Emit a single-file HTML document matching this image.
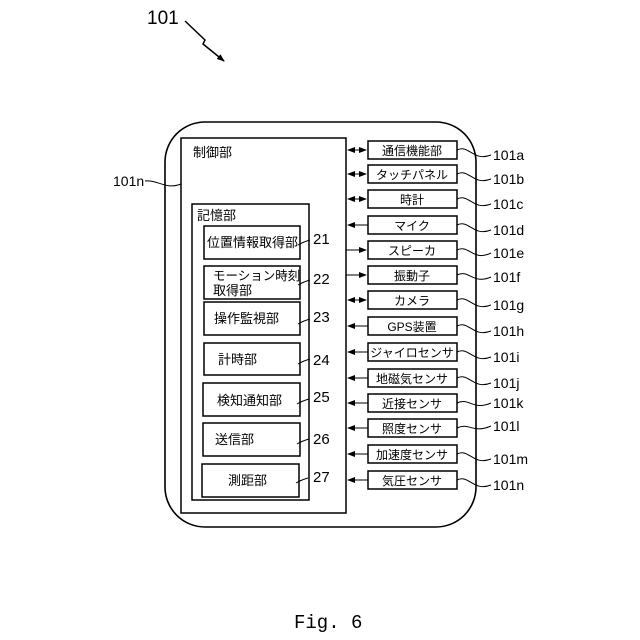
<!DOCTYPE html>
<html><head><meta charset="utf-8"><style>
html,body{margin:0;padding:0;background:#fff}
svg{display:block}
text{font-family:"Liberation Sans","Noto Sans CJK JP",sans-serif;fill:#000}
text.fig{font-family:"Liberation Mono",monospace}
</style></head><body>
<svg width="640" height="640" viewBox="0 0 640 640" xmlns="http://www.w3.org/2000/svg">
<defs><marker id="a" markerWidth="8" markerHeight="6" refX="7" refY="3" orient="auto-start-reverse" markerUnits="userSpaceOnUse"><path d="M0,0 L8,3 L0,6 Z" fill="#000"/></marker></defs>
<text x="147" y="24" font-size="19">101</text>
<polyline points="185,21 205,40 203,44 224,61" fill="none" stroke="#000" stroke-width="1.5" marker-end="url(#a)"/>
<rect x="165" y="122" width="311" height="405" rx="40" fill="none" stroke="#000" stroke-width="1.6"/>
<rect x="181" y="138" width="165" height="375" fill="none" stroke="#000" stroke-width="1.5"/>
<text x="193" y="157" font-size="13">制御部</text>
<rect x="192" y="204" width="117" height="296" fill="none" stroke="#000" stroke-width="1.5"/>
<text x="197" y="220" font-size="13">記憶部</text>
<text x="113" y="186" font-size="14">101n</text>
<path d="M145,181 C160,180 165,190 181,184" fill="none" stroke="#000" stroke-width="1"/>
<g stroke="#000" stroke-width="1.5" fill="none">
<rect x="204" y="226" width="96" height="33"/>
<rect x="204" y="266" width="96" height="33"/>
<rect x="204" y="302" width="96" height="33"/>
<rect x="204" y="343" width="96" height="32"/>
<rect x="203" y="383" width="97" height="33"/>
<rect x="203" y="423" width="97" height="33"/>
<rect x="202" y="464" width="97" height="33"/>
</g>
<g font-size="13">
<text x="207" y="247">位置情報取得部</text>
<text x="213" y="280" font-size="12.5">モーション時刻</text>
<text x="213" y="295">取得部</text>
<text x="214" y="323">操作監視部</text>
<text x="218" y="364">計時部</text>
<text x="217" y="405">検知通知部</text>
<text x="215" y="444">送信部</text>
<text x="228" y="485">測距部</text>
</g>
<g font-size="15">
<text x="313" y="244">21</text>
<text x="313" y="284">22</text>
<text x="313" y="322">23</text>
<text x="313" y="365">24</text>
<text x="313" y="402">25</text>
<text x="313" y="444">26</text>
<text x="313" y="482">27</text>
</g>
<g stroke="#000" stroke-width="1" fill="none">
<path d="M298,245 q5,-3 12,-5"/><path d="M298,285 q5,-3 12,-5"/><path d="M298,324 q5,-3 12,-5"/>
<path d="M298,364 q5,-3 12,-5"/><path d="M297,404 q5,-3 12,-5"/><path d="M297,444 q5,-3 12,-5"/><path d="M296,483 q5,-3 12,-5"/>
</g>
<g stroke="#000" stroke-width="1.5" fill="none">
<rect x="368" y="141" width="89" height="18"/>
<rect x="368" y="165" width="89" height="18"/>
<rect x="368" y="190" width="89" height="18"/>
<rect x="368" y="216" width="89" height="18"/>
<rect x="368" y="241" width="89" height="18"/>
<rect x="368" y="266" width="89" height="18"/>
<rect x="368" y="291" width="89" height="18"/>
<rect x="368" y="317" width="89" height="18"/>
<rect x="368" y="343" width="89" height="18"/>
<rect x="368" y="369" width="89" height="18"/>
<rect x="368" y="394" width="89" height="18"/>
<rect x="368" y="419" width="89" height="18"/>
<rect x="368" y="445" width="89" height="18"/>
<rect x="368" y="471" width="89" height="18"/>
</g>
<g stroke="#000" stroke-width="1">
<line x1="348" y1="150" x2="366" y2="150" marker-start="url(#a)" marker-end="url(#a)"/>
<line x1="348" y1="174" x2="366" y2="174" marker-start="url(#a)" marker-end="url(#a)"/>
<line x1="348" y1="199" x2="366" y2="199" marker-start="url(#a)" marker-end="url(#a)"/>
<line x1="348" y1="225" x2="368" y2="225" marker-start="url(#a)"/>
<line x1="346" y1="250" x2="366" y2="250" marker-end="url(#a)"/>
<line x1="346" y1="275" x2="366" y2="275" marker-end="url(#a)"/>
<line x1="348" y1="300" x2="366" y2="300" marker-start="url(#a)" marker-end="url(#a)"/>
<line x1="348" y1="326" x2="368" y2="326" marker-start="url(#a)"/>
<line x1="348" y1="352" x2="368" y2="352" marker-start="url(#a)"/>
<line x1="348" y1="378" x2="368" y2="378" marker-start="url(#a)"/>
<line x1="348" y1="403" x2="368" y2="403" marker-start="url(#a)"/>
<line x1="348" y1="428" x2="368" y2="428" marker-start="url(#a)"/>
<line x1="348" y1="454" x2="368" y2="454" marker-start="url(#a)"/>
<line x1="348" y1="480" x2="368" y2="480" marker-start="url(#a)"/>
</g>
<g font-size="12" text-anchor="middle">
<text x="412" y="155">通信機能部</text>
<text x="412" y="179">タッチパネル</text>
<text x="412" y="204">時計</text>
<text x="412" y="230">マイク</text>
<text x="412" y="255">スピーカ</text>
<text x="412" y="280">振動子</text>
<text x="412" y="305">カメラ</text>
<text x="412" y="331">GPS装置</text>
<text x="412" y="357">ジャイロセンサ</text>
<text x="412" y="383">地磁気センサ</text>
<text x="412" y="408">近接センサ</text>
<text x="412" y="433">照度センサ</text>
<text x="412" y="459">加速度センサ</text>
<text x="412" y="485">気圧センサ</text>
</g>
<g stroke="#000" stroke-width="1" fill="none">
<path d="M457,150 c12,-6 16,12 34,5"/><path d="M457,174 c12,-6 16,12 34,5"/><path d="M457,199 c12,-6 16,12 34,5"/>
<path d="M457,225 c12,-6 16,12 34,5"/><path d="M457,250 c12,-6 16,12 34,3"/><path d="M457,275 c12,-6 16,10 34,2"/>
<path d="M457,300 c12,-6 16,12 34,5"/><path d="M457,326 c12,-6 16,12 34,5"/><path d="M457,352 c12,-6 16,12 34,5"/>
<path d="M457,378 c12,-6 16,12 34,5"/><path d="M457,403 c12,-6 16,8 34,0"/><path d="M457,428 c12,-6 16,6 34,-2"/>
<path d="M457,454 c12,-6 16,12 34,5"/><path d="M457,480 c12,-6 16,12 34,5"/>
</g>
<g font-size="14">
<text x="493" y="160">101a</text><text x="493" y="184">101b</text><text x="493" y="209">101c</text>
<text x="493" y="235">101d</text><text x="493" y="258">101e</text><text x="493" y="282">101f</text>
<text x="493" y="310">101g</text><text x="493" y="336">101h</text><text x="493" y="362">101i</text>
<text x="493" y="388">101j</text><text x="493" y="408">101k</text><text x="493" y="431">101l</text>
<text x="493" y="464">101m</text><text x="493" y="490">101n</text>
</g>
<text class="fig" x="294" y="628" font-size="19">Fig. 6</text>
</svg>
</body></html>
